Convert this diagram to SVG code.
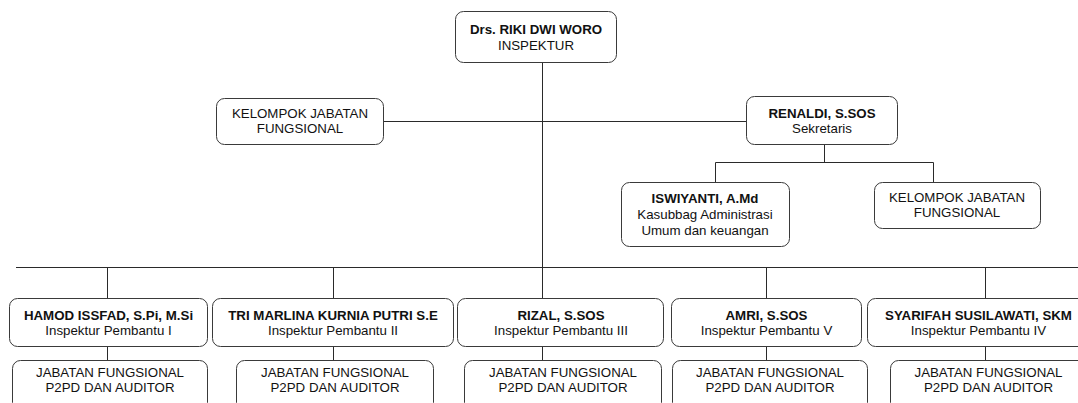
<svg xmlns="http://www.w3.org/2000/svg" width="1078" height="403" viewBox="0 0 1078 403">
<style>
.box{fill:#fff;stroke:#3a3a3a;stroke-width:1}
.ln{fill:none;stroke:#2a2a2a;stroke-width:1}
text{font-family:"Liberation Sans",Arial,sans-serif;font-size:13.3px;fill:#111;text-anchor:middle}
.b{font-weight:bold}
</style>
<rect width="1078" height="403" fill="#fff"/>
<g id="connectors">
<path class="ln" d="M542.5,62V298"/>
<path class="ln" d="M383,121.5H746"/>
<path class="ln" d="M824.5,144V162.5"/>
<path class="ln" d="M715.5,182V162.5H933.5V182"/>
<path class="ln" d="M16,267.5H1078"/>
<path class="ln" d="M107.5,267.5V298M333.5,267.5V298M766.5,267.5V298M985.5,267.5V298"/>
<path class="ln" d="M107.5,346V360M333.5,346V360M542.5,346V360M766.5,346V360M985.5,346V360"/>
</g>
<g id="inspektur">
<rect class="box" x="455.5" y="11.5" width="161" height="51" rx="8"/>
<text x="536" y="34" class="b">Drs. RIKI DWI WORO</text>
<text x="536" y="50">INSPEKTUR</text>
</g>
<g id="kjf-left">
<rect class="box" x="216.5" y="98.5" width="167" height="46" rx="8"/>
<text x="300" y="118">KELOMPOK JABATAN</text>
<text x="300" y="133">FUNGSIONAL</text>
</g>
<g id="sekretaris">
<rect class="box" x="746.5" y="96.5" width="151" height="48" rx="8"/>
<text x="822" y="118" class="b">RENALDI, S.SOS</text>
<text x="822" y="133">Sekretaris</text>
</g>
<g id="kasubbag">
<rect class="box" x="621.5" y="182.5" width="168" height="64" rx="8"/>
<text x="705" y="203" class="b">ISWIYANTI, A.Md</text>
<text x="705" y="219">Kasubbag Administrasi</text>
<text x="705" y="235">Umum dan keuangan</text>
</g>
<g id="kjf-right">
<rect class="box" x="874.5" y="182.5" width="166" height="46" rx="8"/>
<text x="957" y="202">KELOMPOK JABATAN</text>
<text x="957" y="217">FUNGSIONAL</text>
</g>
<g id="irban1">
<rect class="box" x="9.5" y="298.5" width="198" height="48" rx="8"/>
<text x="108.5" y="320" class="b">HAMOD ISSFAD, S.Pi, M.Si</text>
<text x="108.5" y="335">Inspektur Pembantu I</text>
</g>
<g id="irban2">
<rect class="box" x="212.5" y="298.5" width="241" height="48" rx="8"/>
<text x="333" y="320" class="b">TRI MARLINA KURNIA PUTRI S.E</text>
<text x="333" y="335">Inspektur Pembantu II</text>
</g>
<g id="irban3">
<rect class="box" x="457.5" y="298.5" width="206" height="48" rx="8"/>
<text x="561" y="320" class="b">RIZAL, S.SOS</text>
<text x="561" y="335">Inspektur Pembantu III</text>
</g>
<g id="irban5">
<rect class="box" x="671.5" y="298.5" width="190" height="48" rx="8"/>
<text x="766.5" y="320" class="b">AMRI, S.SOS</text>
<text x="766.5" y="335">Inspektur Pembantu V</text>
</g>
<g id="irban4">
<rect class="box" x="867.5" y="298.5" width="222" height="48" rx="8"/>
<text x="978.5" y="320" class="b">SYARIFAH SUSILAWATI, SKM</text>
<text x="978.5" y="335">Inspektur Pembantu IV</text>
</g>
<g id="jf1">
<rect class="box" x="12.5" y="360.5" width="195" height="50" rx="8"/>
<text x="110" y="377">JABATAN FUNGSIONAL</text>
<text x="110" y="392">P2PD DAN AUDITOR</text>
</g>
<g id="jf2">
<rect class="box" x="236.5" y="360.5" width="197" height="50" rx="8"/>
<text x="335" y="377">JABATAN FUNGSIONAL</text>
<text x="335" y="392">P2PD DAN AUDITOR</text>
</g>
<g id="jf3">
<rect class="box" x="464.5" y="360.5" width="197" height="50" rx="8"/>
<text x="563" y="377">JABATAN FUNGSIONAL</text>
<text x="563" y="392">P2PD DAN AUDITOR</text>
</g>
<g id="jf5">
<rect class="box" x="672.5" y="360.5" width="195" height="50" rx="8"/>
<text x="770" y="377">JABATAN FUNGSIONAL</text>
<text x="770" y="392">P2PD DAN AUDITOR</text>
</g>
<g id="jf4">
<rect class="box" x="890.5" y="360.5" width="196" height="50" rx="8"/>
<text x="988.5" y="377">JABATAN FUNGSIONAL</text>
<text x="988.5" y="392">P2PD DAN AUDITOR</text>
</g>
</svg>
